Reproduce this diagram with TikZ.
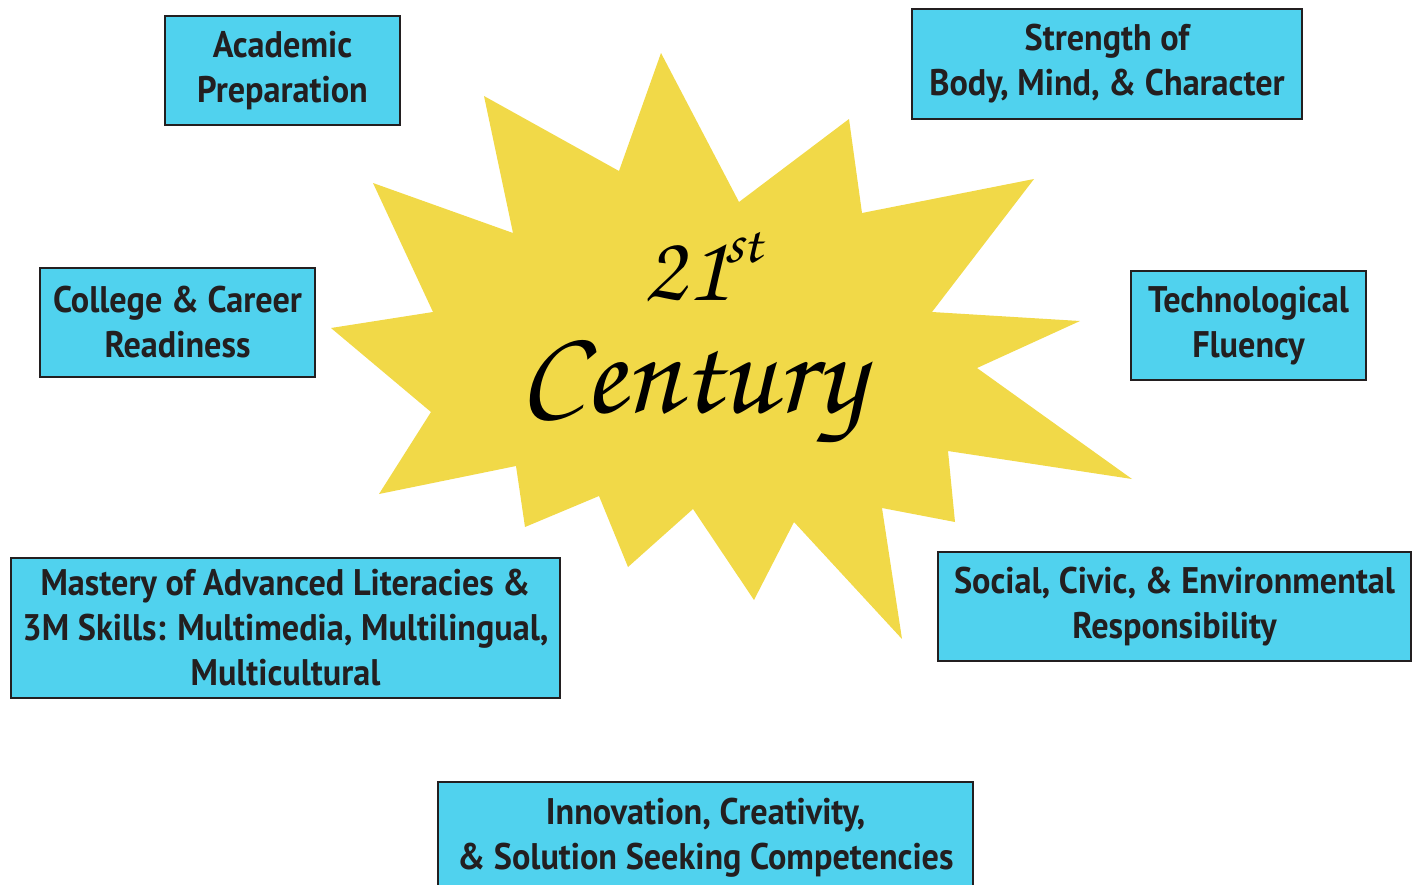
\documentclass[tikz,border=0pt]{standalone}
\usepackage{fontspec}
\setmainfont{PT Sans}[FakeStretch=0.925]
\newfontfamily\chorus{texgyrechorus-mediumitalic.otf}
\definecolor{boxfill}{HTML}{50D2EE}
\definecolor{boxline}{HTML}{231F20}
\definecolor{starfill}{HTML}{F1D948}
\begin{document}
\begin{tikzpicture}[x=1pt,y=-1pt,
  infobox/.style={draw=boxline, line width=2.5pt, fill=boxfill, text=boxline,
    align=center, inner sep=0pt, font=\bfseries\fontsize{37}{45}\selectfont},
  scripttext/.style={inner sep=0pt, text=black, text height=0.6em, text depth=0pt}]
\useasboundingbox (0,0) rectangle (1416,884);
\fill[starfill] (661,53) -- (739,202) -- (849,119) -- (862,213) -- (1034,179)
  -- (932,312) -- (1080,321) -- (977,368) -- (1132,479) -- (948,451)
  -- (955,522) -- (882,508) -- (902,639) -- (794,522) -- (754,600)
  -- (693,509) -- (628,567) -- (599,496) -- (525,527) -- (516,466)
  -- (379,494) -- (431,412) -- (331,328) -- (433,312) -- (373,183)
  -- (513,233) -- (484,96) -- (619,171) -- cycle;
\node[scripttext, anchor=base, font=\chorus\fontsize{96}{96}\selectfont] (tw) at (686,300) {21};
\node[scripttext, anchor=base west, font=\chorus\fontsize{60}{60}\selectfont] (st) at (tw.base east) [yshift=38pt, xshift=-4pt] {st};
\node[scripttext, anchor=base, font=\chorus\fontsize{122}{122}\selectfont] (cent) at (692,412) {Century};
\node[infobox, minimum width=235pt, minimum height=109pt] (acad) at (282.5,70.5) {Academic\\Preparation};
\node[infobox, minimum width=390pt, minimum height=110pt] (str) at (1107,64) {Strength of\\Body, Mind, \& Character};
\node[infobox, minimum width=275pt, minimum height=109pt] (coll) at (177.5,322.5) {College \& Career\\Readiness};
\node[infobox, minimum width=235pt, minimum height=109pt] (tech) at (1248.5,325.5) {Technological\\Fluency};
\node[infobox, minimum width=549pt, minimum height=140pt] (mast) at (285.5,628) {Mastery of Advanced Literacies \&\\3M Skills: Multimedia, Multilingual,\\Multicultural};
\node[infobox, minimum width=473pt, minimum height=109pt] (soc) at (1174.5,606.5) {Social, Civic, \& Environmental\\Responsibility};
\node[infobox, minimum width=535pt, minimum height=112pt] (inno) at (705.5,838) {Innovation, Creativity,\\\& Solution Seeking Competencies};
\end{tikzpicture}
\end{document}
